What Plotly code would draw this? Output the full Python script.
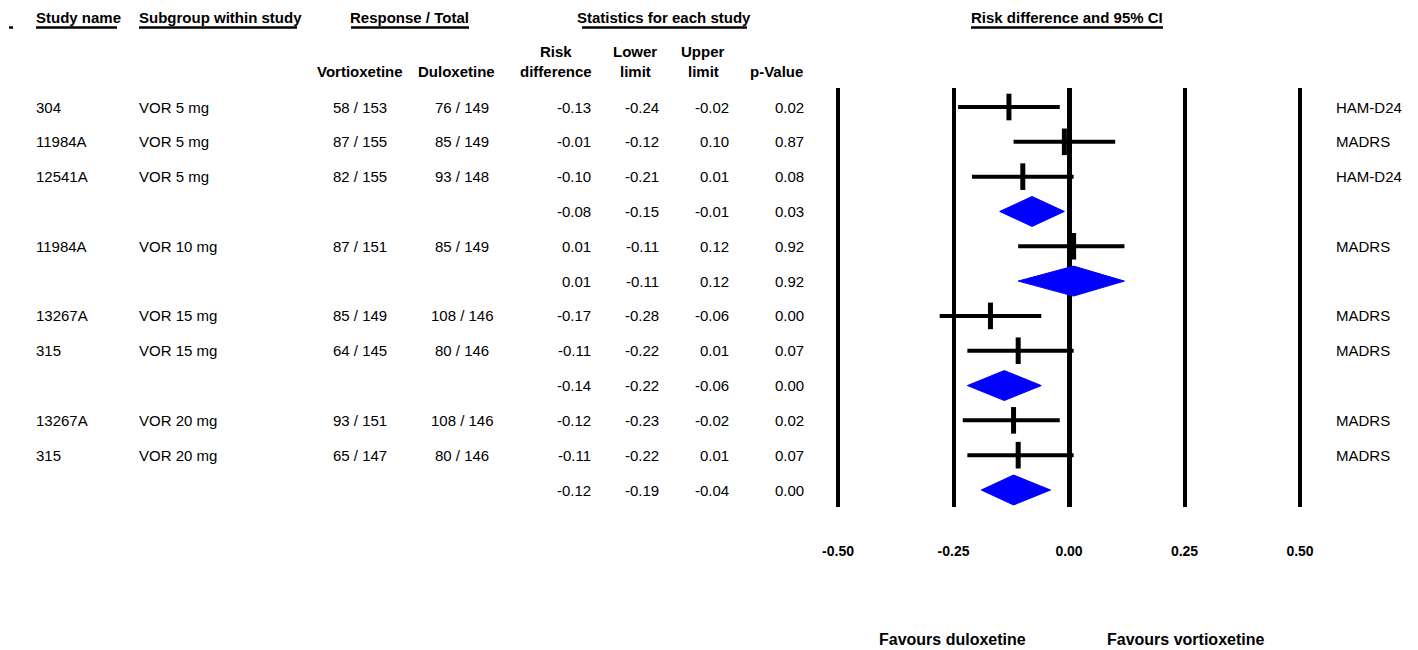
import plotly.graph_objects as go

# ---------------- data ----------------
study = ["304", "11984A", "12541A", "", "11984A", "", "13267A", "315", "", "13267A", "315", ""]
subgroup = ["VOR 5 mg", "VOR 5 mg", "VOR 5 mg", "", "VOR 10 mg", "", "VOR 15 mg", "VOR 15 mg", "",
            "VOR 20 mg", "VOR 20 mg", ""]
vort_resp = ["58 / 153", "87 / 155", "82 / 155", "", "87 / 151", "", "85 / 149", "64 / 145", "",
             "93 / 151", "65 / 147", ""]
dulo_resp = ["76 / 149", "85 / 149", "93 / 148", "", "85 / 149", "", "108 / 146", "80 / 146", "",
             "108 / 146", "80 / 146", ""]
risk_diff = [-0.13, -0.01, -0.10, -0.08, 0.01, 0.01, -0.17, -0.11, -0.14, -0.12, -0.11, -0.12]
lower_lim = [-0.24, -0.12, -0.21, -0.15, -0.11, -0.11, -0.28, -0.22, -0.22, -0.23, -0.22, -0.19]
upper_lim = [-0.02, 0.10, 0.01, -0.01, 0.12, 0.12, -0.06, 0.01, -0.06, -0.02, 0.01, -0.04]
p_value = ["0.02", "0.87", "0.08", "0.03", "0.92", "0.92", "0.00", "0.07", "0.00", "0.02", "0.07", "0.00"]
outcome = ["HAM-D24", "MADRS", "HAM-D24", "", "MADRS", "", "MADRS", "MADRS", "", "MADRS", "MADRS", ""]
is_summary = [False, False, False, True, False, True, False, False, True, False, False, True]
tick_vals = [-0.5, -0.25, 0.0, 0.25, 0.5]
tick_text = ["-0.50", "-0.25", "0.00", "0.25", "0.50"]

# ---------------- layout helpers ----------------
W, H = 1418, 650
FONT = "Arial, Liberation Sans, sans-serif"
FS = 15


def px(x):
    return x / W


def py(y):
    return 1 - y / H


rows = list(range(len(study)))

fig = go.Figure()

# CI lines for individual studies
cx, cy = [], []
for i in rows:
    if not is_summary[i]:
        cx += [lower_lim[i], upper_lim[i], None]
        cy += [i, i, None]
fig.add_trace(go.Scatter(x=cx, y=cy, mode="lines", line=dict(color="black", width=4),
                         hoverinfo="skip", showlegend=False))

# point estimates
mx = [risk_diff[i] for i in rows if not is_summary[i]]
my = [i for i in rows if not is_summary[i]]
fig.add_trace(go.Scatter(x=mx, y=my, mode="markers",
                         marker=dict(symbol="line-ns", size=19, color="black",
                                     line=dict(color="black", width=5)),
                         showlegend=False))

# summary diamonds
dh = 0.43
dx, dy = [], []
for i in rows:
    if is_summary[i]:
        dx += [lower_lim[i], risk_diff[i], upper_lim[i], risk_diff[i], lower_lim[i], None]
        dy += [i, i - dh, i, i + dh, i, None]
fig.add_trace(go.Scatter(x=dx, y=dy, mode="lines", fill="toself", fillcolor="#0000FF",
                         line=dict(color="#0000FF", width=1), hoverinfo="skip", showlegend=False))

ann = []


def add(text, x, y, xanchor="left", yref="y", bold=False, size=FS):
    ann.append(dict(text=f"<b>{text}</b>" if bold else text, x=x, y=y, xref="paper", yref=yref,
                    xanchor=xanchor, yanchor="middle", showarrow=False,
                    borderpad=0, borderwidth=0,
                    font=dict(family=FONT, size=size, color="black")))


# table rows
for i in rows:
    if study[i]:
        add(study[i], px(36), i)
    if subgroup[i]:
        add(subgroup[i], px(139), i)
    if vort_resp[i]:
        add(vort_resp[i], px(360), i, "center")
    if dulo_resp[i]:
        add(dulo_resp[i], px(462), i, "center")
    add(f"{risk_diff[i]:.2f}", px(591), i, "right")
    add(f"{lower_lim[i]:.2f}", px(659), i, "right")
    add(f"{upper_lim[i]:.2f}", px(729), i, "right")
    add(p_value[i], px(804), i, "right")
    if outcome[i]:
        add(outcome[i], px(1336), i)

# headers
hy = py(18)
add("Study name", px(36), hy, "left", "paper", True)
add("Subgroup within study", px(139), hy, "left", "paper", True)
add("Response / Total", px(409), hy, "center", "paper", True)
add("Statistics for each study", px(664), hy, "center", "paper", True)
add("Risk difference and 95% CI", px(1067), hy, "center", "paper", True)

h1, h2 = py(52), py(71)
add("Vortioxetine", px(360), h2, "center", "paper", True)
add("Duloxetine", px(456), h2, "center", "paper", True)
add("Risk", px(556), h1, "center", "paper", True)
add("difference", px(556), h2, "center", "paper", True)
add("Lower", px(635), h1, "center", "paper", True)
add("limit", px(635), h2, "center", "paper", True)
add("Upper", px(703), h1, "center", "paper", True)
add("limit", px(703), h2, "center", "paper", True)
add("p-Value", px(776), h2, "center", "paper", True)

fy = py(639)
add("Favours duloxetine", px(953), fy, "center", "paper", True, 16)
add("Favours vortioxetine", px(1185), fy, "center", "paper", True, 16)

# header underlines
shapes = []
for x0, x1 in [(36, 117), (139, 297), (351, 469), (582, 747), (971, 1163), (9, 13)]:
    shapes.append(dict(type="line", xref="paper", yref="paper", x0=px(x0), x1=px(x1),
                       y0=py(27.5), y1=py(27.5), line=dict(color="black", width=2.5)))

# axis geometry
x_lo, x_hi = -0.55, 0.55
unit = 462.0
x_left = 838 - 0.05 * unit
x_right = 1300 + 0.05 * unit
row_px = (490 - 107) / 11.0
y_top_row = (88 - 107) / row_px
y_bot_row = (507 - 107) / row_px

fig.update_layout(
    width=W, height=H, autosize=False,
    margin=dict(l=0, r=0, t=0, b=0, pad=0),
    paper_bgcolor="white", plot_bgcolor="white",
    showlegend=False,
    annotations=ann, shapes=shapes,
    xaxis=dict(domain=[px(x_left), px(x_right)], range=[x_lo, x_hi],
               tickmode="array", tickvals=tick_vals,
               ticktext=[f"<b>{t}</b>" for t in tick_text],
               tickfont=dict(family=FONT, size=14, color="black"),
               showgrid=True, gridcolor="black", gridwidth=4,
               zeroline=True, zerolinecolor="black", zerolinewidth=5,
               showline=False, ticks="", ticklabelstandoff=34, fixedrange=True),
    yaxis=dict(domain=[py(507), py(88)], range=[y_bot_row, y_top_row],
               visible=False, showgrid=False, zeroline=False, fixedrange=True),
)

fig.write_html("out.html", config={"displayModeBar": False},
               post_script="document.body.style.margin='0';")
